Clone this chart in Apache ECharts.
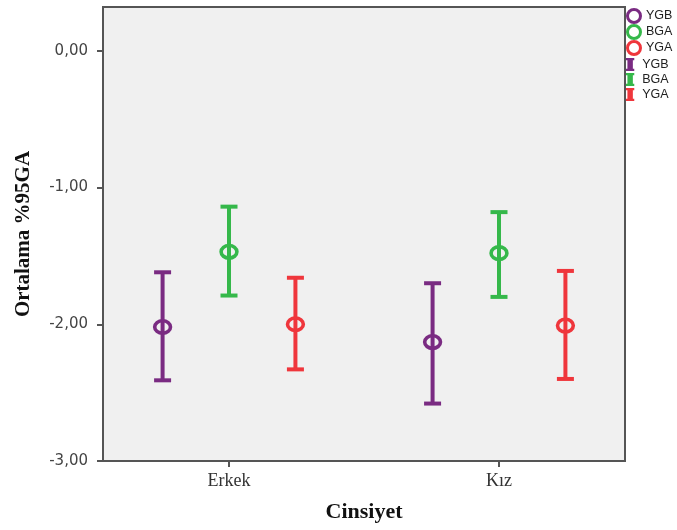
<!DOCTYPE html>
<html>
<head>
<meta charset="utf-8">
<script src="https://cdn.jsdelivr.net/npm/echarts@6/dist/echarts.min.js"></script>
<style>html,body{margin:0;padding:0;background:#fff;}#c{width:677px;height:530px;}</style>
</head>
<body>
<div id="c"></div>
<script>
const categories = ['Erkek', 'Kız'];
const groups = ['YGB', 'BGA', 'YGA'];
const meanYGB = [-2.02, -2.13];
const upperYGB = [-1.62, -1.70];
const lowerYGB = [-2.41, -2.58];
const meanBGA = [-1.47, -1.48];
const upperBGA = [-1.14, -1.18];
const lowerBGA = [-1.79, -1.80];
const meanYGA = [-2.00, -2.01];
const upperYGA = [-1.66, -1.61];
const lowerYGA = [-2.33, -2.40];
const yTicks = [-3, -2, -1, 0];

const colors = ['#7A2B82', '#35B84A', '#EF363C'];
const offsets = [-0.246, 0, 0.246];
const seriesValues = [
  [meanYGB, lowerYGB, upperYGB],
  [meanBGA, lowerBGA, upperBGA],
  [meanYGA, lowerYGA, upperYGA]
];

function makeRender(color) {
  return function (params, api) {
    const x = api.value(0);
    const pm = api.coord([x, api.value(1)]);
    const pl = api.coord([x, api.value(2)]);
    const ph = api.coord([x, api.value(3)]);
    const cw = 8.5;
    const ls = { stroke: color, lineWidth: 4, fill: null };
    return {
      type: 'group',
      children: [
        { type: 'line', shape: { x1: pm[0], y1: ph[1], x2: pm[0], y2: pl[1] }, style: ls },
        { type: 'line', shape: { x1: pm[0] - cw, y1: ph[1], x2: pm[0] + cw, y2: ph[1] }, style: ls },
        { type: 'line', shape: { x1: pm[0] - cw, y1: pl[1], x2: pm[0] + cw, y2: pl[1] }, style: ls },
        { type: 'ellipse', shape: { cx: pm[0], cy: pm[1], rx: 7.9, ry: 6.3 }, style: { fill: 'none', stroke: color, lineWidth: 3.6 } }
      ]
    };
  };
}

const series = groups.map(function (g, i) {
  const v = seriesValues[i];
  return {
    name: g,
    type: 'custom',
    itemStyle: { color: colors[i] },
    renderItem: makeRender(colors[i]),
    encode: { x: 0, y: [1, 2, 3] },
    data: categories.map(function (c, j) { return [j + offsets[i], v[0][j], v[1][j], v[2][j]]; })
  };
});

const barIcon = 'path://M0,0H7V2H5.8V9H7V11H0V9H1.2V2H0Z';

const chart = echarts.init(document.getElementById('c'), null, { renderer: 'canvas' });
chart.setOption({
  animation: false,
  backgroundColor: '#fff',
  grid: {
    left: 103, right: 52, top: 7, bottom: 69,
    show: true, backgroundColor: '#F0F0F0', borderColor: '#555', borderWidth: 2,
    containLabel: false, outerBoundsMode: 'none'
  },
  legend: [
    {
      orient: 'vertical', left: 626, top: 8, padding: 0,
      itemWidth: 14, itemHeight: 13, itemGap: 0, selectedMode: false,
      textStyle: { fontFamily: 'Liberation Sans', fontSize: 12.5, color: '#222' },
      data: groups.map(function (g, i) {
        return { name: g, icon: 'circle', itemStyle: { color: 'transparent', borderColor: colors[i], borderWidth: 3 } };
      })
    },
    {
      orient: 'vertical', left: 626, top: 58, padding: 0,
      itemWidth: 14, itemHeight: 13, itemGap: 2, selectedMode: false,
      textStyle: { fontFamily: 'Liberation Sans', fontSize: 12.5, color: '#222' },
      data: groups.map(function (g, i) {
        return { name: g, icon: barIcon, itemStyle: { color: colors[i], borderWidth: 0 } };
      })
    }
  ],
  xAxis: {
    type: 'value',
    min: -0.4667, max: 1.4667,
    name: 'Cinsiyet', nameLocation: 'middle', nameGap: 40,
    nameTextStyle: { fontFamily: 'Liberation Serif', fontWeight: 'bold', fontSize: 22, color: '#111' },
    splitLine: { show: false },
    axisLine: { show: false, onZero: false },
    axisTick: { show: true, customValues: [0, 1], length: 6, lineStyle: { color: '#555', width: 2 } },
    axisLabel: {
      customValues: [0, 1], margin: 11,
      fontFamily: 'Liberation Serif', fontSize: 18, color: '#333',
      formatter: function (v) { return categories[Math.round(v)]; }
    }
  },
  yAxis: {
    type: 'value',
    min: -3, max: 0.32,
    name: 'Ortalama %95GA', nameLocation: 'middle', nameGap: 69, nameRotate: 90,
    nameTextStyle: { fontFamily: 'Liberation Serif', fontWeight: 'bold', fontSize: 21, color: '#111' },
    splitLine: { show: false },
    axisLine: { show: false, onZero: false },
    axisTick: { show: true, customValues: yTicks, length: 6, lineStyle: { color: '#555', width: 2 } },
    axisLabel: {
      customValues: yTicks, margin: 15,
      fontFamily: 'DejaVu Sans', fontSize: 15, color: '#444',
      formatter: function (v) { return v.toFixed(2).replace('.', ','); }
    }
  },
  series: series
});
</script>
</body>
</html>
